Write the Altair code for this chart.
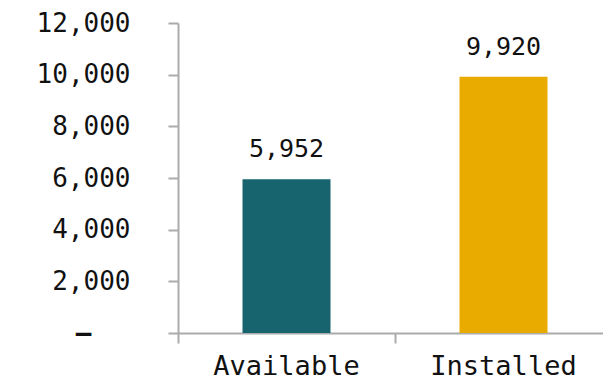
import altair as alt
import pandas as pd

# Available vs installed counts
categories = ["Available", "Installed"]
values = [5952, 9920]
colors = ["#17646e", "#e9ab00"]

df = pd.DataFrame({"category": categories, "value": values})

font = "DejaVu Sans Mono"
axis_grey = "#ababab"

x = alt.X(
    "category:N",
    sort=categories,
    # two equal bands; the second runs past the right edge of the figure
    scale=alt.Scale(paddingInner=0, paddingOuter=0, range=[0, 434]),
    axis=alt.Axis(
        title=None,
        labelAngle=0,
        labelFont=font,
        labelFontSize=27,
        labelColor="#111111",
        labelBaseline="bottom",
        labelPadding=37,
        bandPosition=0,
        domainColor=axis_grey,
        domainWidth=2,
        tickColor=axis_grey,
        tickWidth=2,
        tickSize=10,
    ),
)

y = alt.Y(
    "value:Q",
    scale=alt.Scale(domain=[0, 12000], nice=False),
    axis=alt.Axis(
        title=None,
        values=[0, 2000, 4000, 6000, 8000, 10000, 12000],
        labelExpr="datum.value == 0 ? '–' : format(datum.value, ',')",
        labelFont=font,
        labelFontSize=26,
        labelFontWeight={"condition": {"test": "datum.value == 0", "value": "bold"}, "value": "normal"},
        labelColor="#111111",
        labelPadding={"condition": {"test": "datum.value == 0", "value": 77}, "value": 38},
        grid=False,
        domainColor=axis_grey,
        domainWidth=2,
        tickColor=axis_grey,
        tickWidth=2,
        tickSize=10,
    ),
)

base = alt.Chart(df).encode(x=x, y=y)

bars = base.mark_bar(size=88).encode(
    color=alt.Color(
        "category:N",
        scale=alt.Scale(domain=categories, range=colors),
        legend=None,
    )
)

labels = base.mark_text(
    font=font, fontSize=25, dy=-17, baseline="bottom", color="#111111"
).encode(text=alt.Text("value:Q", format=","))

chart = (
    (bars + labels)
    .properties(
        width=425,
        height=310,
        background="white",
        autosize=alt.AutoSizeParams(type="none"),
        padding={"left": 178, "top": 23, "right": 0, "bottom": 48},
    )
    .configure_axis(grid=False)
    .configure_view(strokeWidth=0)
)

chart.save("out.html", embed_options={"renderer": "svg", "actions": False})
